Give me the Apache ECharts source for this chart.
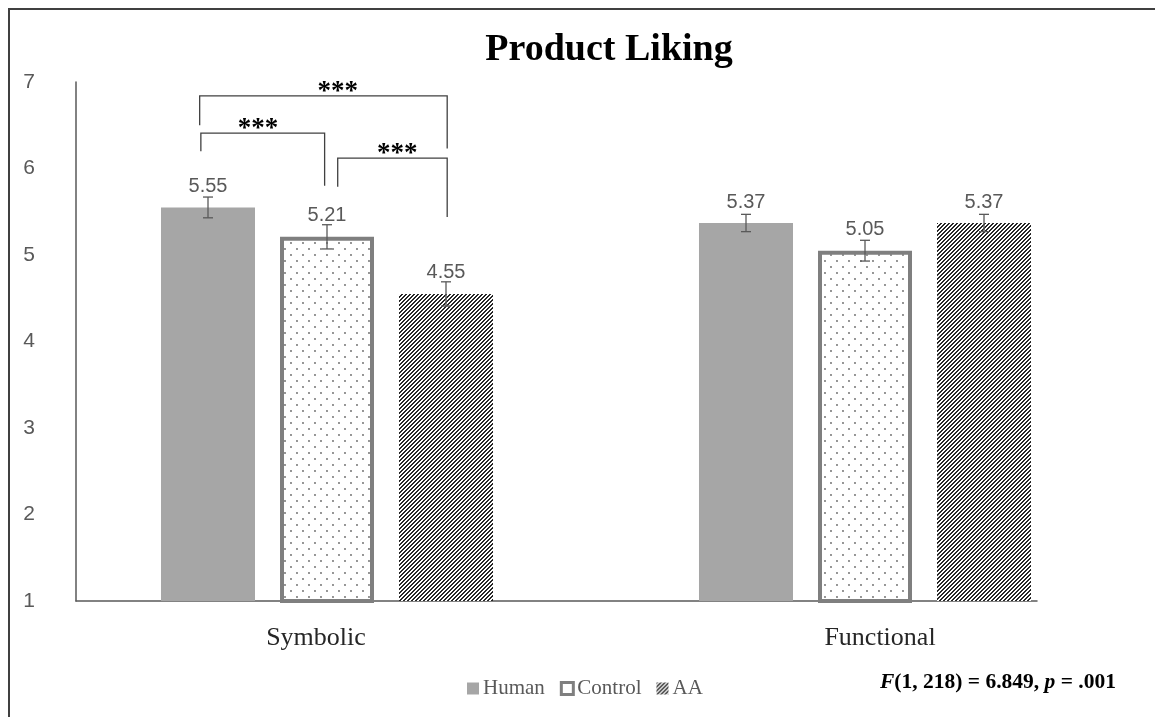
<!DOCTYPE html>
<html>
<head>
<meta charset="utf-8">
<script src="https://cdn.jsdelivr.net/npm/echarts@6/dist/echarts.min.js"></script>
<style>
  html, body { margin: 0; padding: 0; background: #fff; }
  #chart { width: 1155px; height: 717px; }
</style>
</head>
<body>
<div id="chart"></div>
<script>
// ---- data ----
const categories = ['Symbolic', 'Functional'];
const seriesNames = ['Human', 'Control', 'AA'];
const humanMeans = [5.55, 5.37];
const controlMeans = [5.21, 5.05];
const aaMeans = [4.55, 5.37];
const humanErr = [0.12, 0.10];
const controlErr = [0.14, 0.12];
const aaErr = [0.14, 0.10];
const yMin = 1;
const yMax = 7;
const yStep = 1;
// pairwise comparisons: [category, left slot, right slot, bracket top, left foot, right foot, star slot]
const brackets = [
  [0, -0.07, 2.01, 6.84, 6.50, 6.23, 1.09],
  [0, -0.06, 0.98, 6.41, 6.20, 5.80, 0.42],
  [0, 1.09, 2.01, 6.12, 5.79, 5.44, 1.59]
];
const bracketLabels = ['***', '***', '***'];
const statParts = ['F', '(1, 218) = 6.849, ', 'p', ' = .001'];

// ---- layout / style ----
const BAR_W = 94;
const BAR_GAP = 25;
const STEP = BAR_W + BAR_GAP;
const AXIS_GREY = '#595959';
const SERIF = '"Liberation Serif", "Times New Roman", serif';
const SANS = '"Liberation Sans", Arial, sans-serif';

// fill patterns
function dotPattern() {
  const c = document.createElement('canvas');
  c.width = 12; c.height = 12;
  const ctx = c.getContext('2d');
  ctx.fillStyle = '#fff';
  ctx.fillRect(0, 0, 12, 12);
  ctx.fillStyle = '#666';
  [[3, 3], [9, 9]].forEach(([x, y]) => {
    ctx.beginPath();
    ctx.arc(x, y, 0.9, 0, Math.PI * 2);
    ctx.fill();
  });
  return c;
}
// crisp "/" stripes, one dark run of two pixels every four
function hatchPattern() {
  const n = 4;
  const c = document.createElement('canvas');
  c.width = n; c.height = n;
  const ctx = c.getContext('2d');
  ctx.fillStyle = '#fff';
  ctx.fillRect(0, 0, n, n);
  ctx.fillStyle = '#262626';
  for (let y = 0; y < n; y++) {
    for (let k = 0; k < 2; k++) {
      const x = ((n - 1 - y) + k) % n;
      ctx.fillRect(x, y, 1, 1);
    }
  }
  return c;
}
const dotFill = { image: dotPattern(), repeat: 'repeat' };
const hatchFill = { image: hatchPattern(), repeat: 'repeat' };

const barStyles = [
  { color: '#a6a6a6' },
  { color: dotFill, borderColor: '#7f7f7f', borderWidth: 4 },
  { color: hatchFill }
];
const legendStyles = [
  { color: '#a6a6a6' },
  { color: '#ffffff', borderColor: '#7f7f7f', borderWidth: 3 },
  { color: hatchFill }
];

const meansBySeries = [humanMeans, controlMeans, aaMeans];
const errBySeries = [humanErr, controlErr, aaErr];

const errorData = [];
meansBySeries.forEach((means, s) => {
  means.forEach((m, c) => errorData.push([c, s, m, errBySeries[s][c]]));
});

const chart = echarts.init(document.getElementById('chart'), null, { renderer: 'canvas' });

const barSeries = seriesNames.map((name, s) => ({
  name: name,
  type: 'bar',
  xAxisIndex: 1,
  yAxisIndex: 1,
  data: meansBySeries[s],
  barWidth: BAR_W,
  barGap: (BAR_GAP / BAR_W * 100).toFixed(2) + '%',
  itemStyle: barStyles[s],
  label: {
    show: true,
    position: 'top',
    distance: 11,
    formatter: p => p.value.toFixed(2),
    fontFamily: SANS,
    fontSize: 20,
    color: AXIS_GREY
  },
  emphasis: { disabled: true },
  z: 2
}));

const errorSeries = {
  type: 'custom',
  name: 'error',
  xAxisIndex: 1,
  yAxisIndex: 1,
  data: errorData,
  encode: { x: 0, y: 2 },
  z: 5,
  silent: true,
  renderItem: function (params, api) {
    const c = api.value(0), s = api.value(1), m = api.value(2), e = api.value(3);
    const x = api.coord([c, m])[0] + (s - 1) * STEP;
    const yt = api.coord([c, m + e])[1];
    const yb = api.coord([c, m - e])[1];
    const style = { stroke: AXIS_GREY, lineWidth: 1.3, fill: null };
    return {
      type: 'group',
      children: [
        { type: 'line', shape: { x1: x, y1: yt, x2: x, y2: yb }, style },
        { type: 'line', shape: { x1: x - 5, y1: yt, x2: x + 5, y2: yt }, style },
        { type: 'line', shape: { x1: x - 5, y1: yb, x2: x + 5, y2: yb }, style }
      ]
    };
  }
};

const bracketSeries = {
  type: 'custom',
  name: 'brackets',
  xAxisIndex: 1,
  yAxisIndex: 1,
  data: brackets,
  encode: { x: 0, y: 3 },
  z: 6,
  silent: true,
  renderItem: function (params, api) {
    const c = api.value(0);
    const center = api.coord([c, yMin])[0];
    const sx = slot => center + (slot - 1) * STEP;
    const xl = sx(api.value(1)), xr = sx(api.value(2));
    const yTop = api.coord([c, api.value(3)])[1];
    const yL = api.coord([c, api.value(4)])[1];
    const yR = api.coord([c, api.value(5)])[1];
    return {
      type: 'group',
      children: [
        {
          type: 'polyline',
          shape: { points: [[xl, yL], [xl, yTop], [xr, yTop], [xr, yR]] },
          style: { stroke: '#404040', lineWidth: 1.3, fill: null }
        },
        {
          type: 'text',
          x: sx(api.value(6)),
          y: yTop - 4,
          style: {
            text: bracketLabels[params.dataIndex],
            font: 'bold 27px ' + SERIF,
            fill: '#000',
            align: 'center',
            verticalAlign: 'middle'
          }
        }
      ]
    };
  }
};

const option = {
  backgroundColor: '#ffffff',
  animation: false,
  title: {
    text: 'Product Liking',
    left: 604,
    top: 26,
    textAlign: 'center',
    textStyle: { fontFamily: SERIF, fontWeight: 'bold', fontSize: 38, color: '#000' }
  },
  legend: {
    left: 467,
    top: 678,
    padding: 0,
    itemWidth: 12,
    itemHeight: 12,
    itemGap: 15,
    icon: 'rect',
    selectedMode: false,
    textStyle: { fontFamily: SERIF, fontSize: 21, color: AXIS_GREY, padding: [0, 0, 0, -1] },
    data: seriesNames.map((n, i) => ({ name: n, itemStyle: legendStyles[i] }))
  },
  grid: [
    { left: 76, right: 118, top: 82, bottom: 116 },
    { left: 58, right: 21, top: 82, bottom: 116 }
  ],
  xAxis: [
    {
      gridIndex: 0, type: 'category', data: categories,
      axisLine: { onZero: false, lineStyle: { color: AXIS_GREY, width: 1.5 } },
      axisTick: { show: false }, axisLabel: { show: false }, splitLine: { show: false }
    },
    {
      gridIndex: 1, type: 'category', data: categories,
      axisLine: { show: false }, axisTick: { show: false }, splitLine: { show: false },
      axisLabel: {
        margin: 24,
        formatter: v => v === 'Symbolic' ? '{l|' + v + '}' : '{r|' + v + '}',
        rich: {
          l: { fontFamily: SERIF, fontSize: 26, color: '#262626', padding: [0, 22, 0, 0] },
          r: { fontFamily: SERIF, fontSize: 26, color: '#262626', padding: [0, 0, 0, 30] }
        }
      }
    }
  ],
  yAxis: [
    {
      gridIndex: 0, type: 'value', min: yMin, max: yMax, interval: yStep,
      axisLine: { show: true, lineStyle: { color: AXIS_GREY, width: 1.5 } },
      axisTick: { show: false }, splitLine: { show: false },
      axisLabel: { margin: 41, fontFamily: SANS, fontSize: 21, color: AXIS_GREY }
    },
    {
      gridIndex: 1, type: 'value', min: yMin, max: yMax, interval: yStep, show: false,
      splitLine: { show: false }
    }
  ],
  graphic: [
    {
      type: 'rect', silent: true,
      shape: { x: 9, y: 9, width: 1300, height: 900 },
      style: { fill: 'none', stroke: '#404040', lineWidth: 2 }
    },
    {
      type: 'text', left: 880, top: 671, silent: true,
      style: {
        text: '{i|' + statParts[0] + '}{b|' + statParts[1] + '}{i|' + statParts[2] + '}{b|' + statParts[3] + '}',
        rich: {
          i: { fontFamily: SERIF, fontStyle: 'italic', fontWeight: 'bold', fontSize: 21.5, fill: '#000' },
          b: { fontFamily: SERIF, fontWeight: 'bold', fontSize: 21.5, fill: '#000' }
        }
      }
    }
  ],
  series: barSeries.concat([errorSeries, bracketSeries])
};

chart.setOption(option);
</script>
</body>
</html>
